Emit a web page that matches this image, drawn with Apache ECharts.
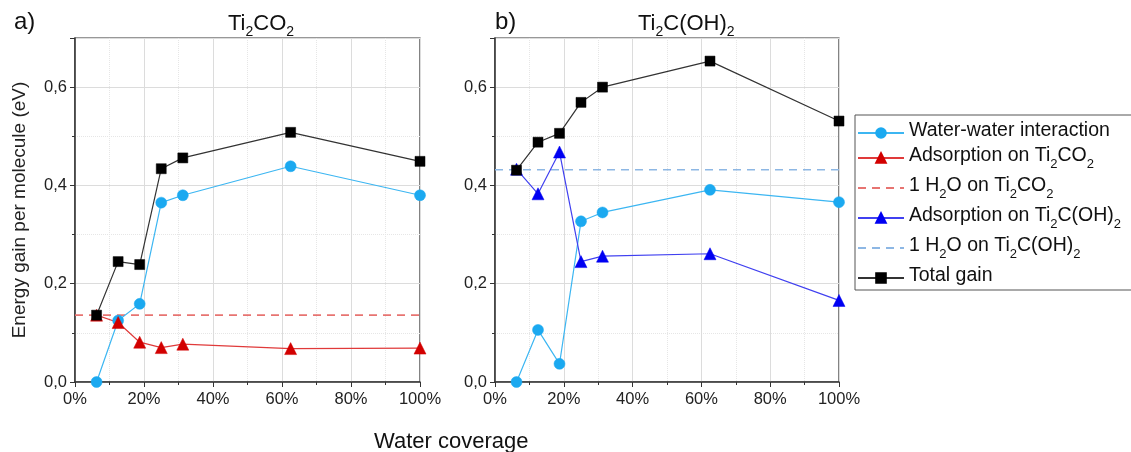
<!DOCTYPE html>
<html>
<head>
<meta charset="utf-8">
<script src="https://cdn.jsdelivr.net/npm/echarts@6/dist/echarts.min.js"></script>
<style>
  html, body { margin: 0; padding: 0; background: #fff; }
  #chart { width: 1131px; height: 452px; }
</style>
</head>
<body>
<div id="chart"></div>
<script>
// water coverage (%) = n/16 molecules
const coverage = [6.25, 12.5, 18.75, 25, 31.25, 62.5, 100]
const xRange = [0, 100]

// a) Ti2CO2
const waterWaterA = [0, 0.125, 0.159, 0.365, 0.38, 0.439, 0.38]
const adsorptionA = [0.136, 0.121, 0.081, 0.07, 0.077, 0.068, 0.069]
const totalA = [0.136, 0.245, 0.239, 0.434, 0.456, 0.508, 0.449]
const singleH2OA = 0.136

// b) Ti2C(OH)2
const waterWaterB = [0, 0.106, 0.037, 0.327, 0.345, 0.391, 0.366]
const adsorptionB = [0.433, 0.383, 0.468, 0.245, 0.256, 0.261, 0.166]
const totalB = [0.431, 0.488, 0.506, 0.569, 0.6, 0.653, 0.531]
const singleH2OB = 0.432

const yTicks = { min: 0, max: 0.7, interval: 0.2 }

const legendNames = [
  'Water-water interaction',
  'Adsorption on Ti2CO2',
  '1 H2O on Ti2CO2',
  'Adsorption on Ti2C(OH)2',
  '1 H2O on Ti2C(OH)2',
  'Total gain'
]
const dashedNames = ['1 H2O on Ti2CO2', '1 H2O on Ti2C(OH)2']

// turn "Ti2CO2" style names into rich text with subscript digits
function sub (txt, main, small) {
  return txt.replace(/([A-Za-z)])(\d)/g, '$1\u0001$2\u0002')
    .split(/(\u0001\d\u0002)/)
    .filter(p => p !== '')
    .map(p => p[0] === '\u0001' ? '{' + small + '|' + p[1] + '}' : '{' + main + '|' + p + '}')
    .join('')
}

const pair = (xs, ys) => xs.map((x, i) => [x, ys[i]])
const flat = (v) => xRange.map(x => [x, v])

function xAxis (idx) {
  return {
    type: 'value',
    gridIndex: idx,
    min: 0,
    max: 100,
    interval: 20,
    axisLine: { onZero: false, lineStyle: { color: '#333', width: 1.5 } },
    axisTick: { length: 5, lineStyle: { color: '#333' } },
    minorTick: { show: true, splitNumber: 2, length: 3, lineStyle: { color: '#333' } },
    splitLine: { show: true, lineStyle: { color: '#dcdcdc', width: 1 } },
    minorSplitLine: { show: true, lineStyle: { color: '#e6e6e6', type: 'dotted' } },
    axisLabel: { formatter: '{value}%', fontSize: 16.5, color: '#222', margin: 9, fontFamily: 'Liberation Sans' }
  }
}

function yAxis (idx, name) {
  return {
    type: 'value',
    gridIndex: idx,
    min: yTicks.min,
    max: yTicks.max,
    interval: yTicks.interval,
    name: name,
    nameLocation: 'middle',
    nameGap: 46,
    nameTextStyle: { fontSize: 19, color: '#222', fontFamily: 'Liberation Sans' },
    axisLine: { show: true, onZero: false, lineStyle: { color: '#333', width: 1.5 } },
    axisTick: { show: true, length: 5, lineStyle: { color: '#333' } },
    minorTick: { show: true, splitNumber: 2, length: 3, lineStyle: { color: '#333' } },
    splitLine: { show: true, lineStyle: { color: '#dcdcdc', width: 1 } },
    minorSplitLine: { show: true, lineStyle: { color: '#e6e6e6', type: 'dotted' } },
    axisLabel: {
      showMaxLabel: false,
      fontSize: 16.5,
      color: '#222',
      margin: 8,
      fontFamily: 'Liberation Sans',
      formatter: v => v.toFixed(1).replace('.', ',')
    }
  }
}

function line (name, gi, data, symbol, size, color, lineColor) {
  return {
    name: name,
    type: 'line',
    xAxisIndex: gi,
    yAxisIndex: gi,
    data: data,
    symbol: symbol,
    symbolSize: size,
    itemStyle: { color: color, borderColor: color, borderWidth: 0.5 },
    lineStyle: { color: lineColor, width: 1.2 },
    z: 3
  }
}

function dashed (name, gi, v, color) {
  return {
    name: name,
    type: 'line',
    xAxisIndex: gi,
    yAxisIndex: gi,
    data: flat(v),
    symbol: 'none',
    itemStyle: { color: color },
    lineStyle: { color: color, width: 1.6, type: [8, 6] },
    z: 2
  }
}

const titleRich = {
  t: { fontSize: 22, lineHeight: 24, verticalAlign: 'top', fontWeight: 'normal', color: '#111', fontFamily: 'Liberation Sans' },
  s: { fontSize: 14, lineHeight: 14, padding: [12, 0, 0, 0], verticalAlign: 'top', fontWeight: 'normal', color: '#111', fontFamily: 'Liberation Sans' }
}

const option = {
  animation: false,
  backgroundColor: '#fff',
  title: [
    { text: 'a)', left: 9, top: 5, textStyle: { fontSize: 24, fontWeight: 'normal', color: '#111', fontFamily: 'Liberation Sans' } },
    { text: sub('Ti2CO2', 't', 's'), left: 223, top: 8, textStyle: { fontWeight: 'normal', rich: titleRich } },
    { text: 'b)', left: 490, top: 5, textStyle: { fontSize: 24, fontWeight: 'normal', color: '#111', fontFamily: 'Liberation Sans' } },
    { text: sub('Ti2C(OH)2', 't', 's'), left: 633, top: 8, textStyle: { fontWeight: 'normal', rich: titleRich } },
    { text: 'Water coverage', left: 369, top: 426, textStyle: { fontSize: 22, fontWeight: 'normal', color: '#111', fontFamily: 'Liberation Sans' } }
  ],
  legend: {
    orient: 'vertical',
    left: 855,
    top: 115,
    data: legendNames.map(n => dashedNames.includes(n)
      ? { name: n, itemStyle: { opacity: 0 } }
      : { name: n }),
    itemWidth: 46,
    itemHeight: 12,
    itemGap: 5,
    padding: [6, 12, 4, 2],
    borderColor: '#555',
    borderWidth: 1,
    backgroundColor: '#fff',
    formatter: n => sub(n, 't', 's'),
    textStyle: {
      rich: {
        t: { fontSize: 19.5, lineHeight: 24, verticalAlign: 'top', color: '#111', fontFamily: 'Liberation Sans' },
        s: { fontSize: 13, lineHeight: 12, padding: [12, 0, 0, 0], verticalAlign: 'top', color: '#111', fontFamily: 'Liberation Sans' }
      }
    }
  },
  grid: [
    { left: 75, top: 38, width: 345, height: 344, show: true, borderColor: '#333', borderWidth: 1.2, backgroundColor: 'transparent' },
    { left: 495, top: 38, width: 344, height: 344, show: true, borderColor: '#333', borderWidth: 1.2, backgroundColor: 'transparent' }
  ],
  xAxis: [xAxis(0), xAxis(1)],
  yAxis: [yAxis(0, 'Energy gain per molecule (eV)'), yAxis(1, '')],
  series: [
    dashed('1 H2O on Ti2CO2', 0, singleH2OA, '#e77471'),
    line('Water-water interaction', 0, pair(coverage, waterWaterA), 'circle', 11, '#1ba9f0', '#3cb6f2'),
    line('Adsorption on Ti2CO2', 0, pair(coverage, adsorptionA), 'triangle', 12, '#d20000', '#e03a3a'),
    line('Total gain', 0, pair(coverage, totalA), 'rect', 10, '#000', '#333'),

    dashed('1 H2O on Ti2C(OH)2', 1, singleH2OB, '#8db7e4'),
    line('Water-water interaction', 1, pair(coverage, waterWaterB), 'circle', 11, '#1ba9f0', '#3cb6f2'),
    line('Adsorption on Ti2C(OH)2', 1, pair(coverage, adsorptionB), 'triangle', 12, '#0000f2', '#4040f0'),
    line('Total gain', 1, pair(coverage, totalB), 'rect', 10, '#000', '#333')
  ]
}

const chart = echarts.init(document.getElementById('chart'), null, { renderer: 'canvas' })
chart.setOption(option)
</script>
</body>
</html>
